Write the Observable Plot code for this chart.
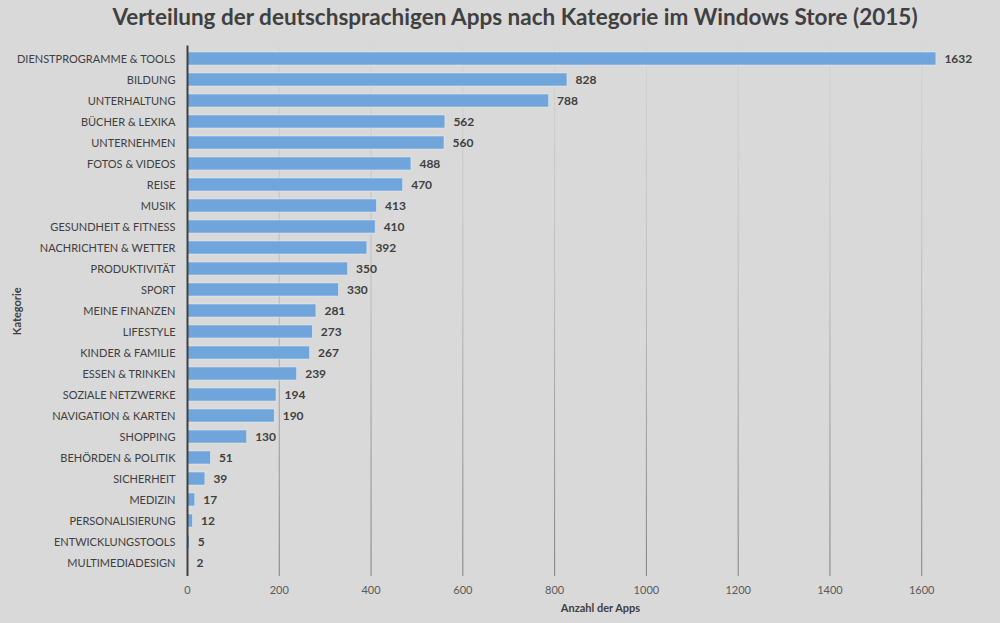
<!DOCTYPE html>
<html><head><meta charset="utf-8">
<script src="https://cdn.jsdelivr.net/npm/d3@7"></script>
<script src="https://cdn.jsdelivr.net/npm/@observablehq/plot@0.6"></script>
<style>
body{margin:0;background:#d9d9d9;width:1000px;height:623px;overflow:hidden;font-family:Lato,"Open Sans",sans-serif;}
#title{height:35px;line-height:34px;text-align:center;font-size:22.5px;font-weight:bold;color:#404040;padding-left:30px;box-sizing:border-box;}
#chart svg{display:block;}
</style></head><body>
<div id="title">Verteilung der deutschsprachigen Apps nach Kategorie im Windows Store (2015)</div>
<div id="chart"></div>
<script>
const categories = ["DIENSTPROGRAMME & TOOLS","BILDUNG","UNTERHALTUNG","BÜCHER & LEXIKA","UNTERNEHMEN","FOTOS & VIDEOS","REISE","MUSIK","GESUNDHEIT & FITNESS","NACHRICHTEN & WETTER","PRODUKTIVITÄT","SPORT","MEINE FINANZEN","LIFESTYLE","KINDER & FAMILIE","ESSEN & TRINKEN","SOZIALE NETZWERKE","NAVIGATION & KARTEN","SHOPPING","BEHÖRDEN & POLITIK","SICHERHEIT","MEDIZIN","PERSONALISIERUNG","ENTWICKLUNGSTOOLS","MULTIMEDIADESIGN"];
const values = [1632,828,788,562,560,488,470,413,410,392,350,330,281,273,267,239,194,190,130,51,39,17,12,5,2];
const xTicks = [0,200,400,600,800,1000,1200,1400,1600];
const gridTicks = [200,400,600,800,1000,1200,1400,1600];

const data = categories.map((c,i)=>({cat:c, v:values[i]}));

const plot = Plot.plot({
  width:1000, height:588,
  marginLeft:187, marginRight:-13, marginTop:10.5, marginBottom:47,
  style:{background:"#d9d9d9", fontFamily:"Lato, 'Open Sans', sans-serif", fontSize:"11px", color:"#404040"},
  x:{domain:[0,1800], ticks:xTicks, tickFormat:"d", label:"Anzahl der Apps", labelAnchor:"center"},
  y:{domain:categories, paddingInner:0.4, paddingOuter:0.2, label:"Kategorie"},
  marks:[
    Plot.ruleX(gridTicks,{stroke:"url(#gridgrad)", strokeWidth:1}),
    Plot.barX(data,{y:"cat", x:"v", fill:"#6fa5da", stroke:"#e6edf5", strokeWidth:0.5}),
    Plot.text(data,{y:"cat", x:"v", text:d=>String(d.v), textAnchor:"start", dx:8, fontWeight:"bold", fill:"#404040", fontSize:12}),
    Plot.ruleX([0],{stroke:"#404040", strokeWidth:2}),
    Plot.axisX({ticks:xTicks, tickFormat:"d", tickSize:0, tickPadding:10, fill:"#595959", label:"Anzahl der Apps", labelAnchor:"center", labelArrow:"none", labelOffset:35, fontSize:11}),
    Plot.axisY({tickSize:0, tickPadding:12, fill:"#404040", label:"Kategorie", labelAnchor:"center", labelArrow:"none", labelOffset:174, fontSize:11})
  ]
});
const ns="http://www.w3.org/2000/svg";
const defs=document.createElementNS(ns,"defs");
defs.innerHTML='<linearGradient id="gridgrad" gradientUnits="userSpaceOnUse" x1="0" y1="10" x2="0" y2="541"><stop offset="0" stop-color="#d4d4d4"/><stop offset="0.45" stop-color="#bcbcbc"/><stop offset="1" stop-color="#7f7f7f"/></linearGradient>';
plot.insertBefore(defs, plot.firstChild);
document.getElementById("chart").appendChild(plot);
plot.querySelectorAll("g[aria-label='x-axis label'] text, g[aria-label='y-axis label'] text").forEach(t=>{t.style.fontWeight="bold";t.setAttribute("fill","#404040");});
</script>
</body></html>
